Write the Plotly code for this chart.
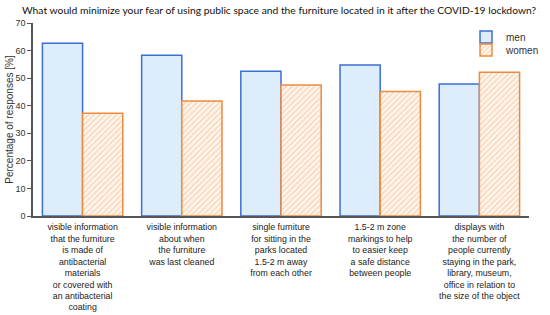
import plotly.graph_objects as go

categories = [
    "visible information<br>that the furniture<br>is made of<br>antibacterial<br>materials<br>or covered with<br>an antibacterial<br>coating",
    "visible information<br>about when<br>the furniture<br>was last cleaned",
    "single furniture<br>for sitting in the<br>parks located<br>1.5-2 m away<br>from each other",
    "1.5-2 m zone<br>markings to help<br>to easier keep<br>a safe distance<br>between people",
    "displays with<br>the number of<br>people currently<br>staying in the park,<br>library, museum,<br>office in relation to<br>the size of the object",
]
men = [62.7, 58.3, 52.5, 54.8, 47.9]
women = [37.3, 41.7, 47.5, 45.2, 52.1]
y_ticks = [0, 10, 20, 30, 40, 50, 60, 70]

fig = go.Figure()
fig.add_trace(go.Bar(
    x=categories, y=men, name="men", legend="legend",
    marker=dict(color="#deedfc", line=dict(color="#3b6fd6", width=1.5)),
))
fig.add_trace(go.Bar(
    x=categories, y=women, name="women", legend="legend2",
    marker=dict(color="#fdeee2", line=dict(color="#ee8a3c", width=1.5),
                pattern=dict(shape="/", fgcolor="#f2a86e", bgcolor="#fff6ee", size=4, solidity=0.3)),
))

leg_common = dict(xanchor="left", yanchor="middle", font=dict(size=10, color="#333"),
                  bgcolor="rgba(0,0,0,0)", itemwidth=30)

fig.update_layout(
    width=550, height=315,
    margin=dict(l=33, r=5, t=23, b=99),
    paper_bgcolor="white", plot_bgcolor="white",
    barmode="group", bargap=0.19, bargroupgap=0,
    font=dict(family="Liberation Sans, Arial, sans-serif", size=9, color="#222"),
    title=dict(
        text="What would minimize your fear of using public space and the furniture located in it after the COVID-19 lockdown?",
        font=dict(family="Lato, Carlito, sans-serif", size=10.3, color="#111"),
        xref="container", x=0.04, xanchor="left", yref="container", y=0.98, yanchor="top",
    ),
    legend=dict(x=0.873, y=(216 - 37) / 193, **leg_common),
    legend2=dict(x=0.873, y=(216 - 50) / 193, **leg_common),
    showlegend=True,
)
fig.update_xaxes(
    showline=True, linecolor="#555", linewidth=1.5, ticks="", showgrid=False,
    tickfont=dict(size=8.8, color="#222"), tickangle=0, automargin=False,
    ticklabelstandoff=2,
)
fig.update_yaxes(
    range=[0, 70], tickvals=y_ticks, showline=True, linecolor="#555", linewidth=1.5,
    ticks="outside", ticklen=4, tickcolor="#555", showgrid=False, zeroline=False,
    title=dict(text="Percentage of responses [%]", font=dict(size=10, color="#333"), standoff=0),
    tickfont=dict(size=9, color="#333"), automargin=False,
)

fig.write_html("out.html")
